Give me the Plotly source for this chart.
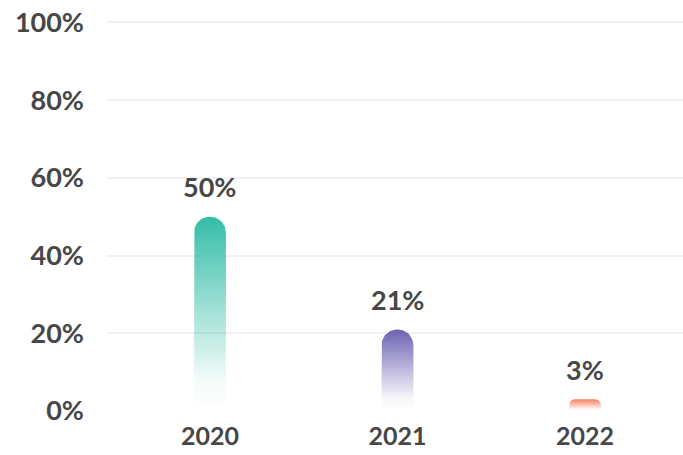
import numpy as np
import plotly.graph_objects as go

# ---- data ----
years = ["2020", "2021", "2022"]
shares = [50, 21, 3]          # percent
bar_colors = ["52,189,167", "108,98,178", "244,128,98"]
y_ticks = [0, 20, 40, 60, 80, 100]

# ---- geometry / style ----
TEXT = "#474747"
GRID = "#f1f1f1"
FONT = "Lato"
X_RANGE = [-0.549, 2.523]
Y_RANGE = [0, 100.6]
W, H = 683, 455
M = dict(l=107, r=0, t=20, b=44)
BAR_PX = 32

px_per_x = (W - M["l"] - M["r"]) / (X_RANGE[1] - X_RANGE[0])
px_per_y = (H - M["t"] - M["b"]) / (Y_RANGE[1] - Y_RANGE[0])


def rounded_bar(xc, val):
    """polygon (data coords) for a bar with rounded top corners"""
    half = BAR_PX / 2 / px_per_x
    h_px = val * px_per_y
    r_px = min(BAR_PX / 2, h_px / 2)
    rx = r_px / px_per_x
    ry = r_px / px_per_y
    xs, ys = [xc - half], [0]
    t = np.linspace(np.pi, np.pi / 2, 20)
    xs += list(xc - half + rx + rx * np.cos(t))
    ys += list(val - ry + ry * np.sin(t))
    t = np.linspace(np.pi / 2, 0, 20)
    xs += list(xc + half - rx + rx * np.cos(t))
    ys += list(val - ry + ry * np.sin(t))
    xs += [xc + half, xc - half]
    ys += [0, 0]
    return xs, ys


fig = go.Figure()

for i, (yr, v, c) in enumerate(zip(years, shares, bar_colors)):
    xs, ys = rounded_bar(i, v)
    fig.add_trace(go.Scatter(
        x=xs, y=ys, mode="lines", fill="toself",
        line=dict(width=0, color=f"rgba({c},0)"),
        fillgradient=dict(
            type="vertical", start=0, stop=v,
            colorscale=[[0, f"rgba({c},0)"], [0.15, f"rgba({c},0.05)"],
                        [1, f"rgba({c},1)"]],
        ),
        hoverinfo="skip", showlegend=False,
    ))
    fig.add_annotation(
        x=i, y=v, text=f"{v}%", showarrow=False,
        yanchor="middle", yshift=30,
        font=dict(family=FONT, size=27, color=TEXT, weight=700),
    )

fig.update_layout(
    width=W, height=H,
    paper_bgcolor="white", plot_bgcolor="white",
    margin=M,
    font=dict(family=FONT, size=27, color=TEXT, weight=700),
    xaxis=dict(
        range=X_RANGE, tickmode="array", tickvals=list(range(len(years))),
        ticktext=years, showgrid=False, zeroline=False, showline=False,
        ticks="", ticklabelstandoff=8, fixedrange=True, automargin=False,
        tickfont=dict(size=25),
    ),
    yaxis=dict(
        range=Y_RANGE, tickmode="array", tickvals=y_ticks,
        ticktext=[f"{t}%" for t in y_ticks],
        showgrid=True, gridcolor=GRID, gridwidth=2,
        zeroline=False, showline=False, ticks="",
        ticklabelstandoff=22, fixedrange=True, automargin=False,
    ),
)

fig.write_html("out.html", config={"displayModeBar": False},
               post_script="document.body.style.margin='0';")
